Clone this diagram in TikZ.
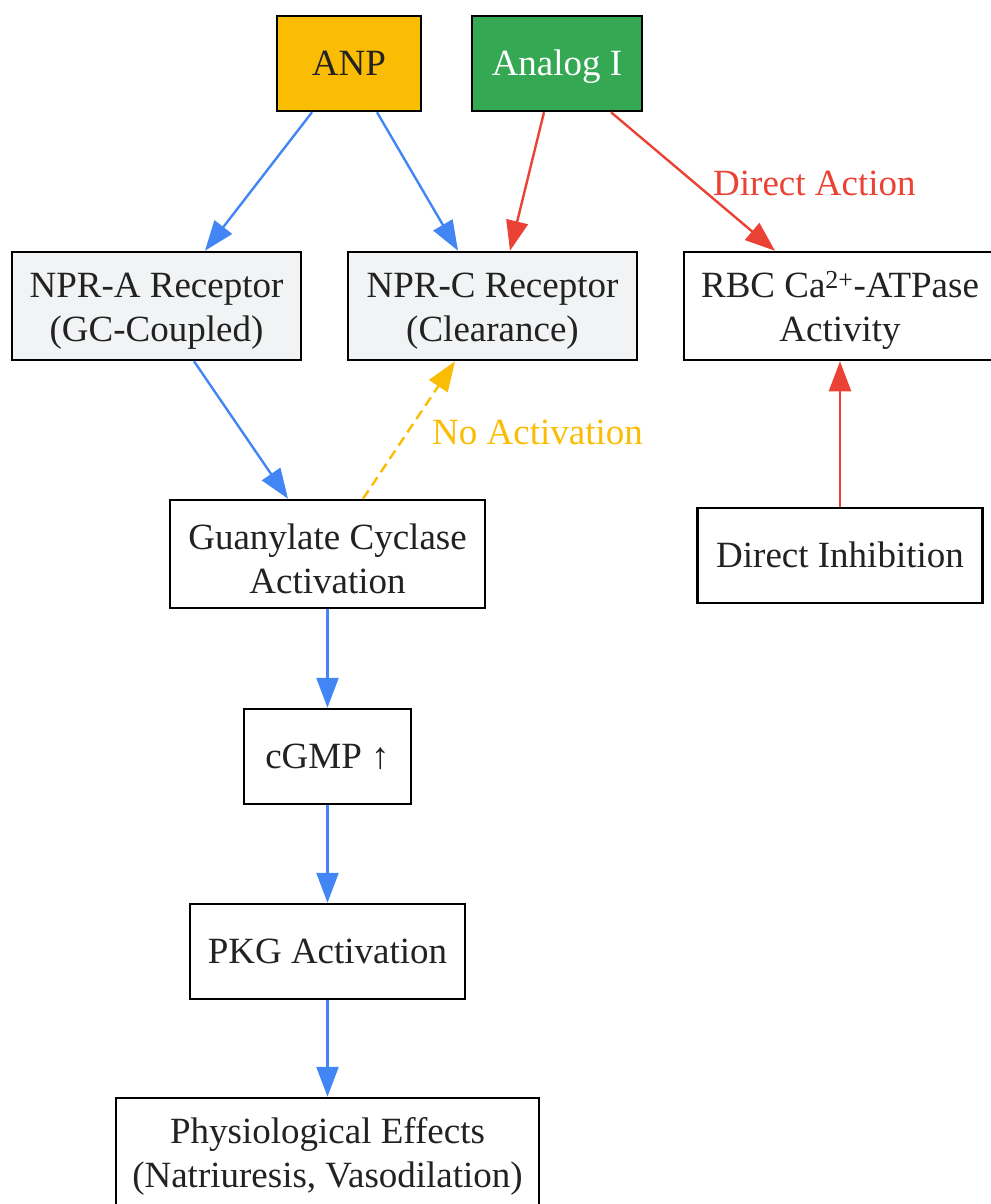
\documentclass[tikz,border=0pt]{standalone}
\usepackage{xcolor}
\usepackage{tikz}
\usepackage{fontspec}
\setmainfont{Liberation Serif}
\definecolor{anpyellow}{RGB}{251, 188, 4}
\definecolor{analoggreen}{RGB}{52, 168, 83}
\definecolor{pathblue}{RGB}{66, 133, 244}
\definecolor{pathred}{RGB}{234, 67, 53}
\definecolor{boxgray}{RGB}{241, 243, 244}
\definecolor{inkgray}{RGB}{34, 34, 34}
\usetikzlibrary{arrows.meta,positioning}
\newcommand{\boxstrut}{\rule[-10.5pt]{0pt}{45.5pt}}

\begin{document}
\begin{tikzpicture}[x=1pt, y=1pt,
    every node/.style={font=\fontsize{37}{44}\selectfont, text=inkgray, align=center, inner sep=0pt},
    box/.style={draw=black, line width=2.5pt, fill=white},
    flow/.style={-{Triangle[length=30pt, width=22pt]}, line width=2.4pt},
    lbl/.style={font=\fontsize{37}{44}\selectfont}]
    \useasboundingbox (0,0) rectangle (990,-1204);
    % inputs
    \node[box, fill=anpyellow, minimum width=144, minimum height=95] (anp) at (349,-63.5) {\boxstrut ANP};
    \node[box, fill=analoggreen, text=white, minimum width=170, minimum height=95] (analog) at (557,-63.5) {\boxstrut Analog I};
    % receptors
    \node[box, fill=boxgray, minimum width=289, minimum height=108] (npra) at (156.5,-306) {\boxstrut NPR-A Receptor\\(GC-Coupled)};
    \node[box, fill=boxgray, minimum width=289, minimum height=108] (nprc) at (492.5,-306) {\boxstrut NPR-C Receptor\\(Clearance)};
    \node[box, minimum width=312, minimum height=108] (rbc) at (840,-306) {\boxstrut RBC Ca\textsuperscript{2+}-ATPase\\Activity};
    % signalling chain
    \node[box, minimum width=315, minimum height=108] (guan) at (327.5,-554) {\boxstrut Guanylate Cyclase\\Activation};
    \node[box, minimum width=285, minimum height=95] (inhib) at (840,-555.5) {\boxstrut Direct Inhibition};
    \node[box, minimum width=167, minimum height=95] (cgmp) at (327.5,-756.5) {\boxstrut cGMP ↑};
    \node[box, minimum width=275, minimum height=95] (pkg) at (327.5,-951.5) {\boxstrut PKG Activation};
    \node[box, minimum width=423, minimum height=108] (effects) at (327.5,-1152) {\boxstrut Physiological Effects\\(Natriuresis, Vasodilation)};

    \draw[flow, pathblue] ([xshift=-37]anp.south) -- ([xshift=48.5]npra.north);
    \draw[flow, pathblue] ([xshift=28]anp.south) -- ([xshift=-34.5]nprc.north);
    \draw[flow, pathred] ([xshift=-13]analog.south) -- ([xshift=17.5]nprc.north);
    \draw[flow, pathred] ([xshift=54]analog.south) -- ([xshift=-65]rbc.north)
        node[lbl, text=pathred, pos=0.5, right=19pt, yshift=-2pt] {Direct Action};
    \draw[flow, pathblue] ([xshift=37.5]npra.south) -- ([xshift=-39.5]guan.north);
    \draw[flow, anpyellow, dash pattern=on 10pt off 6pt] ([xshift=35.5]guan.north) -- ([xshift=-37.5]nprc.south)
        node[lbl, text=anpyellow, pos=0.5, right=22pt, yshift=-2pt] {No Activation};
    \draw[flow, pathred] (inhib.north) -- (rbc.south);
    \draw[flow, pathblue] (guan) -- (cgmp);
    \draw[flow, pathblue] (cgmp) -- (pkg);
    \draw[flow, pathblue] (pkg) -- (effects);
\end{tikzpicture}
\end{document}
